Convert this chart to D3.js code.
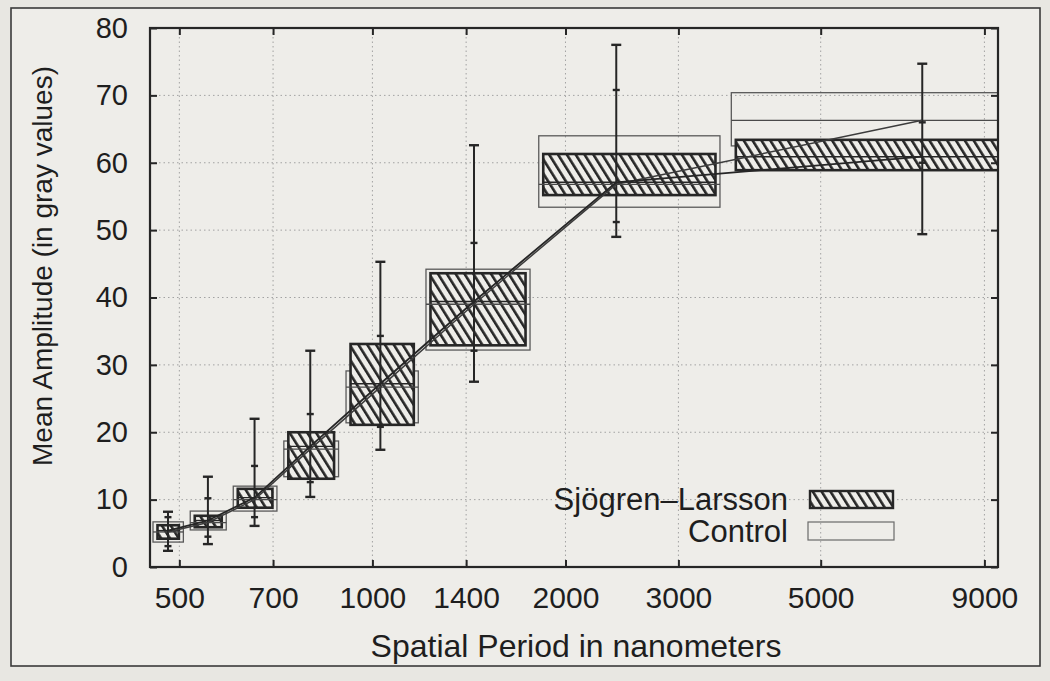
<!DOCTYPE html>
<html>
<head>
<meta charset="utf-8">
<script src="https://cdn.jsdelivr.net/npm/d3@7"></script>
<style>
  html, body { margin: 0; padding: 0; background: #e8e7e2; }
  svg { display: block; font-family: "Liberation Sans", Arial, Helvetica, sans-serif; }
</style>
</head>
<body>
<svg id="chart" width="1050" height="681"></svg>
<script>
// ---------------- data ----------------
const seriesNames = ["Sjögren\u2013Larsson", "Control"];
const xTitle = "Spatial Period in nanometers";
const yTitle = "Mean Amplitude (in gray values)";

// spatial periods (nm) of the measured points
const periods = [480, 554, 655, 800, 1029, 1440, 2400, 7200];
const xTickValues = [500, 700, 1000, 1400, 2000, 3000, 5000, 9000];
const yTickValues = [0, 10, 20, 30, 40, 50, 60, 70, 80];

// Sjögren–Larsson boxes (hatched)
const slsLow  = [4.2, 5.9, 8.8, 13.1, 21.1, 32.9, 55.2, 58.9];
const slsMed  = [5.4, 6.9, 10.3, 17.9, 27.2, 39.4, 57.1, 60.9];
const slsHigh = [6.2, 7.6, 11.6, 20.0, 33.1, 43.6, 61.3, 63.4];

// Control boxes (open)
const ctlLow  = [3.7, 5.5, 8.3, 13.4, 21.4, 32.2, 53.4, 62.5];
const ctlMed  = [5.2, 6.6, 10.0, 17.5, 26.7, 39.0, 56.8, 66.3];
const ctlHigh = [6.7, 8.3, 12.0, 18.7, 29.1, 44.2, 64.0, 70.4];

// whiskers
const outerLow  = [2.4, 3.4, 6.1, 10.4, 17.4, 27.5, 49.0, 49.4];
const outerHigh = [8.2, 13.4, 22.0, 32.1, 45.3, 62.6, 77.5, 74.7];
const innerLow  = [3.1, 4.5, 7.4, 12.6, 20.8, 32.1, 51.2, 60.0];
const innerHigh = [7.4, 10.2, 15.0, 22.7, 34.3, 48.1, 70.8, 66.0];

// ---------------- layout / style ----------------
const W = 1050, H = 681;
const plot = { left: 150, right: 998, top: 28, bottom: 567 };
const ink = "#262626";
const paper = "#eeede9";

const svg = d3.select("#chart");

const x = d3.scaleLog().domain([450, 9450]).range([plot.left, plot.right]);
const y = d3.scaleLinear().domain([0, 80]).range([plot.bottom, plot.top]);

// defs
const defs = svg.append("defs");
const pat = defs.append("pattern")
  .attr("id", "hatch")
  .attr("patternUnits", "userSpaceOnUse")
  .attr("width", 7.5).attr("height", 7.5)
  .attr("patternTransform", "rotate(-32)");
pat.append("rect").attr("width", 7.5).attr("height", 7.5).attr("fill", paper);
pat.append("rect").attr("x", 0).attr("y", 0).attr("width", 2.6).attr("height", 7.5).attr("fill", ink);

defs.append("clipPath").attr("id", "plotclip")
  .append("rect")
  .attr("x", plot.left).attr("y", plot.top)
  .attr("width", plot.right - plot.left).attr("height", plot.bottom - plot.top);

// background + outer frame
svg.append("rect").attr("width", W).attr("height", H).attr("fill", "#e8e7e2");
svg.append("rect").attr("x", 11).attr("y", 8).attr("width", 1029).attr("height", 658)
  .attr("fill", paper).attr("stroke", "#3a3a3a").attr("stroke-width", 1.6);

// grid
const grid = svg.append("g").attr("stroke", "#a2a2a2").attr("stroke-width", 1)
  .attr("stroke-dasharray", "1.5,3");
grid.selectAll("line.gy").data(yTickValues.filter(v => v > 0 && v < 80)).join("line")
  .attr("x1", plot.left).attr("x2", plot.right)
  .attr("y1", d => y(d)).attr("y2", d => y(d));
grid.selectAll("line.gx").data(xTickValues).join("line")
  .attr("x1", d => x(d)).attr("x2", d => x(d))
  .attr("y1", plot.top).attr("y2", plot.bottom);

// rows
const rows = periods.map((p, i) => ({
  p, i,
  sL: slsLow[i], sM: slsMed[i], sH: slsHigh[i],
  cL: ctlLow[i], cM: ctlMed[i], cH: ctlHigh[i],
  oL: outerLow[i], oH: outerHigh[i], iL: innerLow[i], iH: innerHigh[i]
}));

// box horizontal extent: computed in frequency space around each harmonic
const f0 = 1 / d3.max(periods);
function boxEdges(p) {
  const f = 1 / p;
  const k = f / f0;
  const hw = (0.98 - 0.027 * k) * f0;
  const left = x(1 / (f + hw));
  const right = x(1 / Math.max(f - hw, f0 * 0.01));
  return [left, right];
}
const pad = 4.5;

const g = svg.append("g").attr("clip-path", "url(#plotclip)");

// control boxes
g.selectAll("rect.ctl").data(rows).join("rect")
  .attr("x", d => boxEdges(d.p)[0] - pad)
  .attr("width", d => boxEdges(d.p)[1] - boxEdges(d.p)[0] + 2 * pad)
  .attr("y", d => y(d.cH))
  .attr("height", d => y(d.cL) - y(d.cH))
  .attr("fill", "none").attr("stroke", "#5a5a5a").attr("stroke-width", 1.3);

// hatched boxes
g.selectAll("rect.sls").data(rows).join("rect")
  .attr("x", d => boxEdges(d.p)[0])
  .attr("width", d => boxEdges(d.p)[1] - boxEdges(d.p)[0])
  .attr("y", d => y(d.sH))
  .attr("height", d => y(d.sL) - y(d.sH))
  .attr("fill", "url(#hatch)").attr("stroke", ink).attr("stroke-width", 2.6);

// median lines
g.selectAll("line.cmed").data(rows).join("line")
  .attr("x1", d => boxEdges(d.p)[0] - pad).attr("x2", d => boxEdges(d.p)[1] + pad)
  .attr("y1", d => y(d.cM)).attr("y2", d => y(d.cM))
  .attr("stroke", "#4a4a4a").attr("stroke-width", 1.3);
g.selectAll("line.smed").data(rows).join("line")
  .attr("x1", d => boxEdges(d.p)[0]).attr("x2", d => boxEdges(d.p)[1])
  .attr("y1", d => y(d.sM)).attr("y2", d => y(d.sM))
  .attr("stroke", ink).attr("stroke-width", 1.4);

// whiskers
const wh = g.append("g").attr("stroke", ink);
wh.selectAll("line.stem").data(rows).join("line")
  .attr("x1", d => x(d.p)).attr("x2", d => x(d.p))
  .attr("y1", d => y(d.oL)).attr("y2", d => y(d.oH))
  .attr("stroke-width", 2);
const caps = [];
rows.forEach(d => {
  caps.push({ p: d.p, v: d.oL, w: 5 }, { p: d.p, v: d.oH, w: 5 },
            { p: d.p, v: d.iL, w: 3.5 }, { p: d.p, v: d.iH, w: 3.5 });
});
wh.selectAll("line.cap").data(caps).join("line")
  .attr("x1", d => x(d.p) - d.w).attr("x2", d => x(d.p) + d.w)
  .attr("y1", d => y(d.v)).attr("y2", d => y(d.v))
  .attr("stroke-width", 2.4);

// connecting lines through medians
const line = d3.line().x(d => x(d.p)).y(d => y(d.m));
g.append("path")
  .datum(rows.map(d => ({ p: d.p, m: d.cM })))
  .attr("d", line).attr("fill", "none").attr("stroke", "#3c3c3c").attr("stroke-width", 1.5);
g.append("path")
  .datum(rows.map(d => ({ p: d.p, m: d.sM })))
  .attr("d", line).attr("fill", "none").attr("stroke", ink).attr("stroke-width", 1.8);

// axes
const axL = svg.append("g").attr("transform", `translate(${plot.left},0)`)
  .call(d3.axisLeft(y).tickValues(yTickValues).tickSize(-7).tickSizeOuter(0).tickPadding(22));
const axB = svg.append("g").attr("transform", `translate(0,${plot.bottom})`)
  .call(d3.axisBottom(x).tickValues(xTickValues).tickFormat(d3.format("d"))
    .tickSize(-7).tickSizeOuter(0).tickPadding(20));
const axT = svg.append("g").attr("transform", `translate(0,${plot.top})`)
  .call(d3.axisTop(x).tickValues(xTickValues).tickFormat("").tickSize(-7).tickSizeOuter(0));
const axR = svg.append("g").attr("transform", `translate(${plot.right},0)`)
  .call(d3.axisRight(y).tickValues(yTickValues).tickFormat("").tickSize(-7).tickSizeOuter(0));

[axL, axB, axT, axR].forEach(a => {
  a.select(".domain").remove();
  a.selectAll(".tick line").attr("stroke", ink).attr("stroke-width", 2);
  a.selectAll("text").attr("fill", "#1e1e1e").attr("font-family", "'Liberation Sans', Arial, sans-serif");
});
axL.selectAll("text").attr("font-size", 29);
axB.selectAll("text").attr("font-size", 30);

// plot frame
svg.append("rect")
  .attr("x", plot.left).attr("y", plot.top)
  .attr("width", plot.right - plot.left).attr("height", plot.bottom - plot.top)
  .attr("fill", "none").attr("stroke", ink).attr("stroke-width", 2.2);

// axis titles
svg.append("text")
  .attr("x", 576).attr("y", 657)
  .attr("text-anchor", "middle").attr("font-size", 32).attr("fill", "#1e1e1e")
  .text(xTitle);
svg.append("text")
  .attr("transform", "translate(52,266) rotate(-90)")
  .attr("text-anchor", "middle").attr("font-size", 28).attr("fill", "#1e1e1e")
  .text(yTitle);

// legend
const lg = svg.append("g");
lg.append("text").attr("x", 788).attr("y", 510).attr("text-anchor", "end")
  .attr("font-size", 31).attr("fill", "#1e1e1e").text(seriesNames[0]);
lg.append("text").attr("x", 788).attr("y", 542).attr("text-anchor", "end")
  .attr("font-size", 31).attr("fill", "#1e1e1e").text(seriesNames[1]);
lg.append("rect").attr("x", 810).attr("y", 491).attr("width", 83).attr("height", 17)
  .attr("fill", "url(#hatch)").attr("stroke", ink).attr("stroke-width", 2.4);
lg.append("rect").attr("x", 808).attr("y", 522).attr("width", 86).attr("height", 18)
  .attr("fill", "none").attr("stroke", "#6a6a6a").attr("stroke-width", 1.2);
</script>
</body>
</html>
